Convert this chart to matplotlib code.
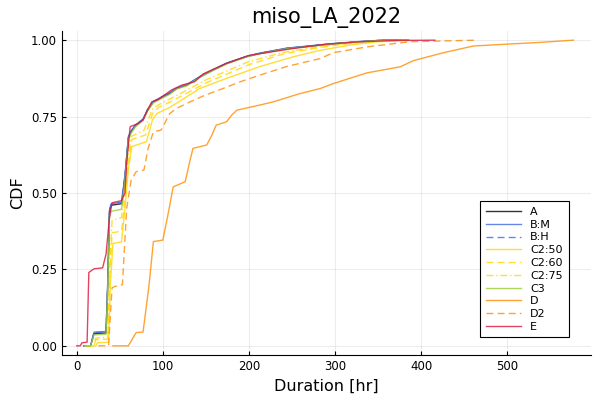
import numpy as np
import matplotlib.pyplot as plt

# CDF knots (duration in hours, cumulative fraction)
a_x = [8, 16, 18, 20, 34, 36, 38, 40, 52, 56, 60, 63, 68, 77, 82, 89, 97, 108, 116, 128, 143, 158, 174, 197, 213, 244, 283, 298, 330, 356, 385]
a_y = [0, 0, 0.02, 0.04, 0.042, 0.2, 0.44, 0.46, 0.465, 0.55, 0.68, 0.70, 0.72, 0.74, 0.77, 0.798, 0.81, 0.826, 0.842, 0.853, 0.88, 0.902, 0.924, 0.946, 0.957, 0.973, 0.984, 0.988, 0.995, 1.0, 1.0]

bm_x = a_x
bm_y = [0, 0, 0.022, 0.045, 0.047, 0.21, 0.445, 0.465, 0.47, 0.56, 0.685, 0.703, 0.722, 0.742, 0.772, 0.8, 0.812, 0.828, 0.843, 0.855, 0.881, 0.903, 0.925, 0.947, 0.958, 0.974, 0.985, 0.989, 0.996, 1.0, 1.0]

bh_x = a_x
bh_y = [0, 0, 0.021, 0.043, 0.045, 0.205, 0.442, 0.462, 0.467, 0.555, 0.682, 0.701, 0.721, 0.741, 0.771, 0.799, 0.811, 0.827, 0.842, 0.854, 0.88, 0.902, 0.924, 0.946, 0.957, 0.973, 0.984, 0.988, 0.995, 1.0, 1.0]

c250_x = [10, 22, 24, 37, 39, 42, 52, 56, 60, 64, 81, 88, 93, 108, 125, 143, 174, 213, 252, 283, 320, 350, 387]
c250_y = [0, 0, 0.01, 0.012, 0.2, 0.335, 0.34, 0.45, 0.58, 0.652, 0.668, 0.74, 0.76, 0.78, 0.81, 0.842, 0.875, 0.914, 0.946, 0.967, 0.985, 0.995, 1.0]

c260_x = [10, 20, 22, 36, 38, 41, 52, 56, 60, 64, 80, 88, 95, 110, 130, 150, 175, 200, 240, 280, 320, 360, 385]
c260_y = [0, 0, 0.02, 0.022, 0.2, 0.37, 0.375, 0.48, 0.6, 0.675, 0.69, 0.76, 0.78, 0.8, 0.83, 0.86, 0.89, 0.92, 0.955, 0.975, 0.99, 0.998, 1.0]

c275_x = [10, 20, 22, 36, 38, 41, 52, 56, 60, 63, 78, 88, 96, 110, 130, 150, 175, 200, 240, 280, 320, 360, 385]
c275_y = [0, 0, 0.025, 0.028, 0.25, 0.41, 0.42, 0.52, 0.63, 0.685, 0.705, 0.775, 0.79, 0.81, 0.84, 0.87, 0.9, 0.93, 0.96, 0.978, 0.992, 0.998, 1.0]

c3_x = a_x
c3_y = [0, 0, 0.018, 0.036, 0.038, 0.19, 0.425, 0.44, 0.447, 0.54, 0.675, 0.695, 0.716, 0.737, 0.767, 0.795, 0.807, 0.823, 0.84, 0.851, 0.878, 0.9, 0.922, 0.945, 0.956, 0.972, 0.983, 0.988, 0.995, 1.0, 1.0]

d_x = [42, 60, 64, 69, 77, 84, 89, 100, 106, 112, 126, 131, 135, 151, 157, 162, 174, 180, 186, 213, 228, 259, 283, 298, 337, 376, 391, 426, 461, 500, 540, 577]
d_y = [0, 0, 0.02, 0.0435, 0.045, 0.2, 0.341, 0.346, 0.43, 0.52, 0.537, 0.6, 0.646, 0.657, 0.69, 0.722, 0.733, 0.755, 0.771, 0.788, 0.798, 0.825, 0.842, 0.858, 0.893, 0.913, 0.933, 0.959, 0.981, 0.987, 0.993, 1.0]

d2_x = [25, 37, 39, 41, 44, 53, 55, 58, 63, 69, 78, 83, 89, 98, 108, 116, 133, 149, 170, 190, 213, 244, 283, 298, 337, 387, 466]
d2_y = [0, 0, 0.1, 0.19, 0.194, 0.2, 0.3, 0.45, 0.54, 0.57, 0.575, 0.647, 0.70, 0.706, 0.76, 0.777, 0.80, 0.82, 0.842, 0.864, 0.886, 0.914, 0.94, 0.959, 0.978, 0.995, 1.0]

e_x = [0, 4, 6, 12, 14, 20, 30, 34, 38, 41, 52, 56, 58, 62, 71, 77, 82, 87, 94, 110, 122, 137, 147, 174, 200, 252, 290, 330, 370, 416]
e_y = [0, 0, 0.01, 0.012, 0.24, 0.252, 0.255, 0.3, 0.42, 0.468, 0.475, 0.5, 0.6, 0.717, 0.727, 0.739, 0.77, 0.798, 0.805, 0.837, 0.853, 0.864, 0.89, 0.924, 0.95, 0.973, 0.987, 0.995, 0.999, 1.0]

dash = (0, (5, 3))
dashdot = (0, (5, 2, 1, 2))

series = [
    ("A", a_x, a_y, "black", "-"),
    ("B:M", bm_x, bm_y, "#4169e1", "-"),
    ("B:H", bh_x, bh_y, "#4169e1", dash),
    ("C2:50", c250_x, c250_y, "#ffd700", "-"),
    ("C2:60", c260_x, c260_y, "#ffd700", dash),
    ("C2:75", c275_x, c275_y, "#ffd700", dashdot),
    ("C3", c3_x, c3_y, "#9acd32", "-"),
    ("D", d_x, d_y, "#ff8c00", "-"),
    ("D2", d2_x, d2_y, "#ff8c00", dash),
    ("E", e_x, e_y, "#dc143c", "-"),
]

fig = plt.figure(figsize=(6, 4), dpi=100)
ax = fig.add_axes([0.103, 0.1125, 0.882, 0.81])

for name, xs, ys, col, ls in series:
    ax.plot(xs, ys, color=col, linestyle=ls, linewidth=1, alpha=0.8, label=name)

ax.set_xlim(-17.4, 597.4)
ax.set_ylim(-0.03, 1.03)
ax.set_xticks([0, 100, 200, 300, 400, 500])
ax.set_yticks([0, 0.25, 0.5, 0.75, 1.0])
ax.set_yticklabels(["0.00", "0.25", "0.50", "0.75", "1.00"])
ax.tick_params(direction="in", labelsize=8.5, length=3)
ax.grid(True, color="black", alpha=0.07, linewidth=0.8)
ax.spines["top"].set_visible(False)
ax.spines["right"].set_visible(False)

ax.set_title("miso_LA_2022", fontsize=15)
ax.set_xlabel("Duration [hr]", fontsize=11.5)
ax.set_ylabel("CDF", fontsize=11.5)

leg = ax.legend(loc="lower right", bbox_to_anchor=(0.968, 0.037), fontsize=8,
                fancybox=False, framealpha=1, edgecolor="black", handlelength=3.2,
                labelspacing=0.25, borderpad=0.5)
leg.get_frame().set_linewidth(0.8)

plt.savefig("out.png", dpi=100)
